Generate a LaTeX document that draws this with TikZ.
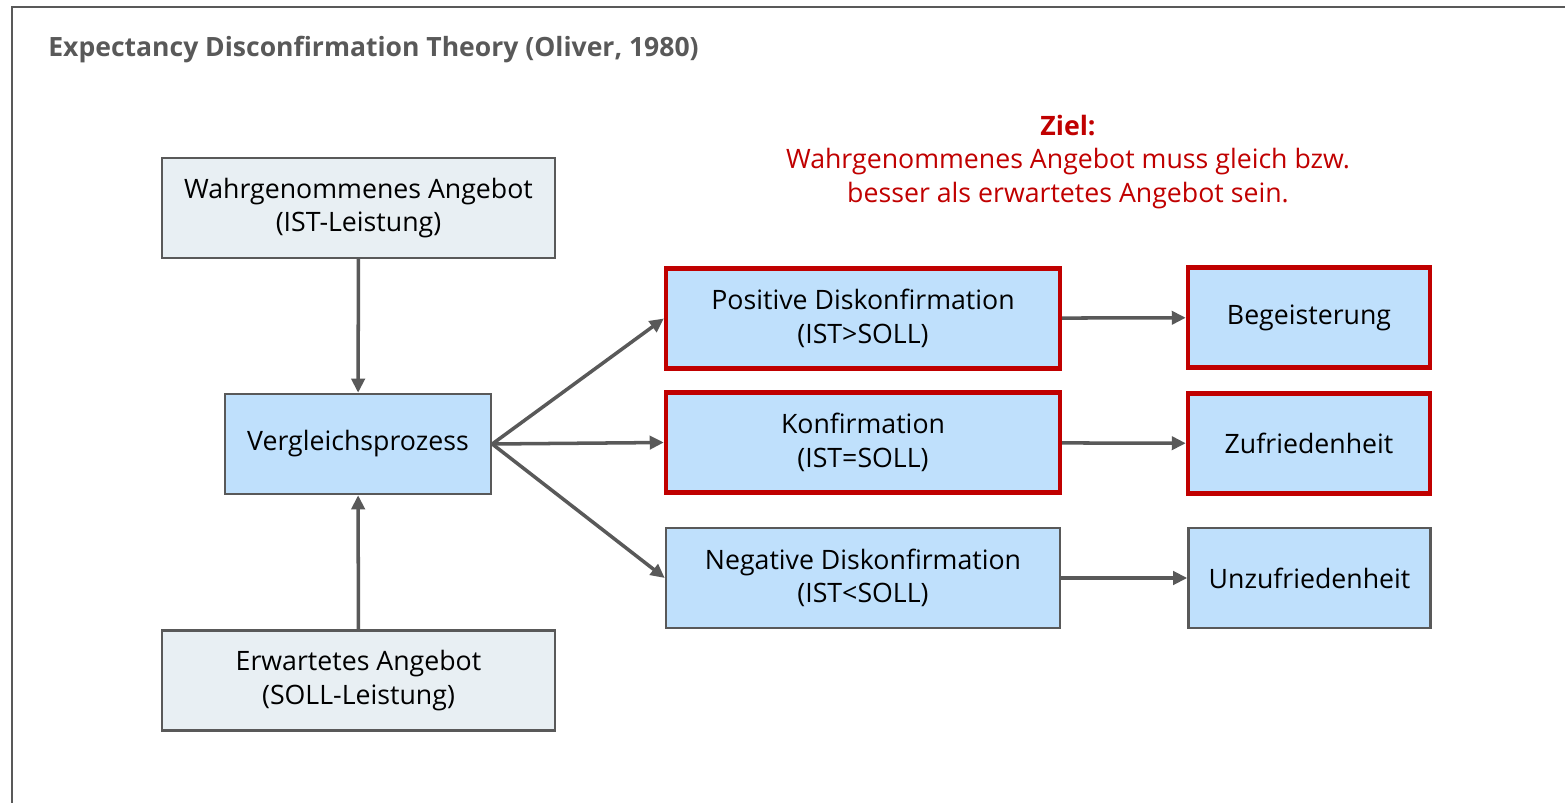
\documentclass[tikz,border=0pt]{standalone}
\usepackage{fontspec}
\setmainfont{Open Sans}
\usetikzlibrary{arrows.meta}
\definecolor{rahmen}{RGB}{89,89,89}
\definecolor{hellgrau}{RGB}{232,239,243}
\definecolor{hellblau}{RGB}{191,224,252}
\definecolor{dunkelrot}{RGB}{192,0,0}
\tikzset{
  kasten/.style={draw=rahmen, line width=1.4pt, align=center, inner sep=0pt, font=\fontsize{15.2}{19}\selectfont},
  angebot/.style={kasten, fill=hellgrau, minimum width=393*0.02cm, minimum height=100*0.02cm},
  prozess/.style={kasten, fill=hellblau, minimum width=394*0.02cm, minimum height=100*0.02cm},
  ergebnis/.style={kasten, fill=hellblau, minimum width=242*0.02cm, minimum height=100*0.02cm},
  rot/.style={draw=dunkelrot, line width=2.5pt},
  pfeil/.style={draw=rahmen, line width=2pt, -{Triangle[length=8pt, width=7.5pt]}}
}
\begin{document}
\begin{tikzpicture}[x=0.02cm, y=-0.02cm]
			%%%%% START %%%%%
			\useasboundingbox (0,0) rectangle (1565,803);
			\draw[rahmen, line width=1.1pt] (12,7) rectangle (1580,820);
			
			\node[anchor=base west, inner sep=0pt, text=rahmen, font=\bfseries\fontsize{15.1}{18}\selectfont] (titel) at (48,57) {Expectancy Disconfirmation Theory (Oliver, 1980)};
			
			\node[align=center, text=dunkelrot, font=\fontsize{15.2}{19}\selectfont] (ziel) at (1068,162) {\textbf{Ziel:}\\Wahrgenommenes Angebot muss gleich bzw.\\besser als erwartetes Angebot sein.};
			
			\node[angebot] (ist) at (358.5,208) {Wahrgenommenes Angebot\\(IST-Leistung)};
			\node[prozess, minimum width=266*0.02cm] (vergleich) at (358,444) {Vergleichsprozess};
			\node[angebot] (soll) at (358.5,680.5) {Erwartetes Angebot\\(SOLL-Leistung)};
			
			\node[prozess, rot] (positiv) at (863,318.5) {Positive Diskonfirmation\\(IST>SOLL)};
			\node[prozess, rot] (konf) at (863,442.5) {Konfirmation\\(IST=SOLL)};
			\node[prozess] (negativ) at (863,578) {Negative Diskonfirmation\\(IST<SOLL)};
			
			\node[ergebnis, rot] (begeist) at (1309,317.5) {Begeisterung};
			\node[ergebnis, rot] (zufrieden) at (1309,443.5) {Zufriedenheit};
			\node[ergebnis] (unzufrieden) at (1309.5,578) {Unzufriedenheit};
			
			\draw[pfeil] (ist) -- (vergleich);
			\draw[pfeil] (soll) -- (vergleich);
			
			\draw[pfeil] (vergleich.east) -- (positiv.west);
			\draw[pfeil] (vergleich.east) -- (konf.west);
			\draw[pfeil] (vergleich.east) -- (negativ.west);
			
			\draw[pfeil] (positiv) -- (begeist);
			\draw[pfeil] (konf) -- (zufrieden);
			\draw[pfeil] (negativ) -- (unzufrieden);
			%%%%% END %%%%%
\end{tikzpicture}
\end{document}
